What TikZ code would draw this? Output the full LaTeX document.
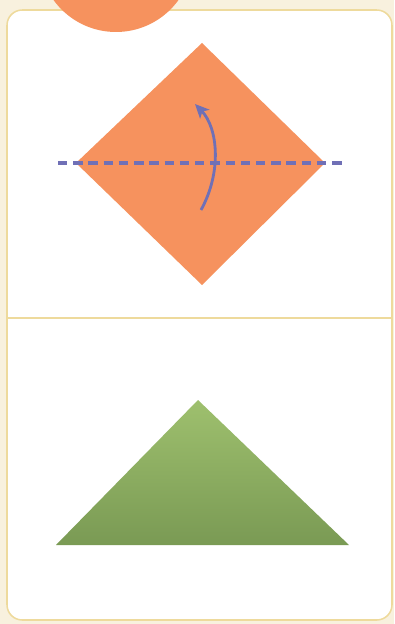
\documentclass[tikz,border=0pt]{standalone}
\usepackage{xcolor}
\usepackage{tikz}
\usetikzlibrary{arrows.meta}
\definecolor{creambg}{RGB}{248,241,222}
\definecolor{cardline}{RGB}{238,218,156}
\definecolor{paperorange}{RGB}{246,146,94}
\definecolor{greentop}{RGB}{158,192,110}
\definecolor{greenbot}{RGB}{122,154,84}
\definecolor{foldblue}{RGB}{112,112,182}
\tikzstyle{card}=[fill=white,draw=cardline,line width=1.3pt,rounded corners=13pt]
\tikzstyle{foldline}=[draw=foldblue,line width=2.6pt,dash pattern=on 8pt off 5pt]
\tikzstyle{foldarrow}=[-{Stealth[length=12pt,width=11pt,inset=3pt]},draw=foldblue,line width=2.4pt]

\begin{document}
\begin{tikzpicture}[x=0.03cm,y=-0.03cm]
      \useasboundingbox (0,0) rectangle (394,624);
      \clip (0,0) rectangle (394,624);
      \fill[creambg] (0,0) rectangle (394,624);
      % card and step circle
      \path[card] (7,10) rectangle (392,620);
      \fill[paperorange] (116,-45) circle (77);
      \draw[cardline,line width=1.1pt] (8,318) -- (392,318);

      % step 1: square turned as diamond
      \coordinate (top) at (202,43);
      \coordinate (left) at (76,163);
      \coordinate (bot) at (202,285);
      \coordinate (right) at (325,163);
      \fill[paperorange] (top) -- (right) -- (bot) -- (left) -- cycle;
      \coordinate (fa) at (58,163);
      \coordinate (fb) at (343,163);
      \path[foldline] (fa) -- (fb);
      \coordinate (as) at (201,210);
      \coordinate (ae) at (195,104);
      \draw[foldarrow] (as) .. controls (222,172) and (218,128) .. (ae);

      % step 2: folded triangle
      \coordinate (apex) at (198,400);
      \coordinate (tl) at (56,545);
      \coordinate (tr) at (349,545);
      \shade[top color=greentop,bottom color=greenbot] (apex) -- (tr) -- (tl) -- cycle;
    \end{tikzpicture}
\end{document}
